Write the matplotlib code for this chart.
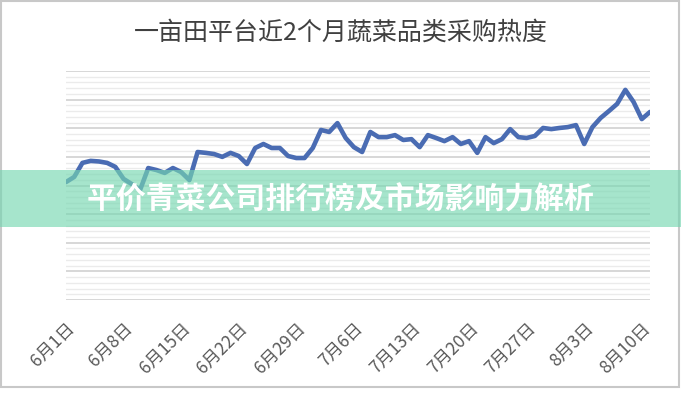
import matplotlib
matplotlib.use("Agg")
import matplotlib.pyplot as plt
from matplotlib.patches import Rectangle

plt.rcParams['font.family'] = ['Noto Sans CJK SC', 'DejaVu Sans']

# daily procurement heat, 6/1 .. 8/11
heat = [41.2, 43.0, 47.9, 48.6, 48.4, 47.9, 46.5, 42.3, 40.5, 38.4,
        46.1, 45.4, 44.4, 46.1, 44.7, 41.9, 51.7, 51.4, 51.0, 50.0,
        51.4, 50.3, 47.5, 53.1, 54.5, 53.1, 53.1, 50.3, 49.6, 49.6,
        53.1, 59.4, 58.7, 61.8, 56.6, 53.4, 51.7, 58.7, 56.9, 56.9,
        57.6, 55.9, 56.2, 53.4, 57.6, 56.6, 55.5, 56.9, 54.5, 55.5,
        51.4, 56.9, 54.8, 56.2, 59.7, 56.9, 56.6, 57.3, 60.1, 59.7,
        60.1, 60.4, 61.1, 54.5, 60.4, 63.6, 66.0, 68.5, 73.4, 69.2,
        63.2, 65.7]
tick_days = [0, 7, 14, 21, 28, 35, 42, 49, 56, 63, 70]
tick_labels = ['6月1日', '6月8日', '6月15日', '6月22日', '6月29日', '7月6日',
               '7月13日', '7月20日', '7月27日', '8月3日', '8月10日']
title = '一亩田平台近2个月蔬菜品类采购热度'
banner = '平价青菜公司排行榜及市场影响力解析'

fig = plt.figure(figsize=(6.81, 4.0), dpi=100)
ax = fig.add_axes([66/681, 100/400, 584/681, 229/400])

days = list(range(len(heat)))
ax.plot(days, heat, color='#4a6cb3', lw=3.3, solid_joinstyle='round',
        solid_capstyle='round', zorder=3)

ax.set_xlim(0, len(heat) - 1)
ax.set_ylim(0, 80)
ax.set_yticks(range(0, 81, 10))
ax.set_yticks(range(0, 81, 2), minor=True)
ax.grid(axis='y', which='major', color='#d4d4d4', lw=1.3)
ax.grid(axis='y', which='minor', color='#ebebeb', lw=1.0)
ax.tick_params(axis='y', which='both', length=0, labelleft=False)
for s in ax.spines.values():
    s.set_visible(False)

ax.set_xticks(tick_days)
ax.set_xticklabels(tick_labels, rotation=45, ha='right', rotation_mode='anchor',
                   fontsize=12.5, color='#595959')
ax.tick_params(axis='x', length=0, pad=14)

fig.text(0.5, 1 - 33/400, title, ha='center', va='center', fontsize=18,
         color='#404040')

# border around the picture
fig.patches.append(Rectangle((1/681, 13/400), 678/681, 386/400, transform=fig.transFigure,
                             fill=False, edgecolor='#c8c8c8', lw=1.5))

# translucent banner across the middle
fig.patches.append(Rectangle((0, 1 - 227/400), 1, 57/400, transform=fig.transFigure,
                             facecolor=(118/255, 215/255, 177/255), alpha=0.65,
                             edgecolor='none', zorder=5))
fig.text(0.5, 1 - 200/400, banner, ha='center', va='center', fontsize=21.5,
         fontweight='bold', color='white', zorder=6)

fig.savefig('out.png', dpi=100)
